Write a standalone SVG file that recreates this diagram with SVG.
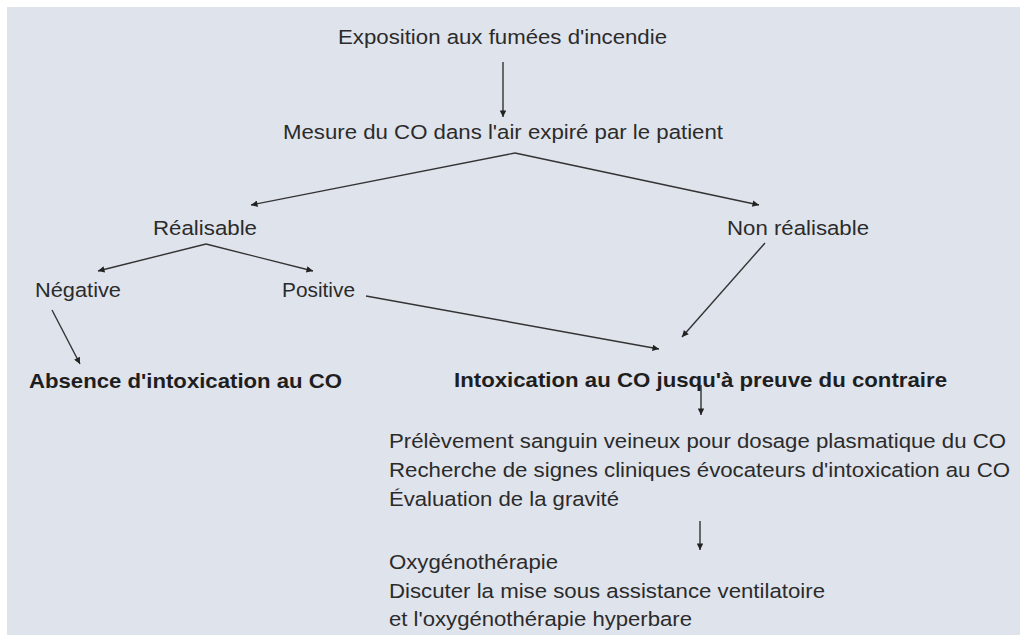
<svg xmlns="http://www.w3.org/2000/svg" width="1020" height="635" viewBox="0 0 1020 635">
<style>
.t{font-family:"Liberation Sans",Arial,sans-serif;font-size:20.5px;fill:#2b2b2b}
.b{font-weight:bold;fill:#1e1e1e}
.c{stroke:#333;stroke-width:1.4;fill:none;marker-end:url(#ah)}
</style>
<defs>
<marker id="ah" viewBox="0 0 10 10" refX="10" refY="5" markerWidth="11" markerHeight="6.5" markerUnits="userSpaceOnUse" orient="auto">
<path d="M0,0 L10,5 L0,10 z" fill="#222"/>
</marker>
</defs>
<rect width="1020" height="635" fill="#ffffff"/>
<rect x="7" y="7" width="1013" height="628" fill="#dfe3ec"/>
<g id="connectors">
<line class="c" x1="503" y1="62" x2="503" y2="117"/>
<line class="c" x1="515" y1="153" x2="251" y2="205"/>
<line class="c" x1="515" y1="153" x2="759" y2="205"/>
<line class="c" x1="206" y1="244" x2="98" y2="271"/>
<line class="c" x1="206" y1="244" x2="313" y2="271"/>
<line class="c" x1="52" y1="310" x2="80" y2="364"/>
<line class="c" x1="366" y1="296" x2="659" y2="349"/>
<line class="c" x1="765" y1="243" x2="682" y2="337"/>
<line class="c" x1="701" y1="385" x2="701" y2="415"/>
<line class="c" x1="700" y1="521" x2="700" y2="550"/>
</g>
<g id="n_exposition"><text class="t" x="338" y="44" textLength="329" lengthAdjust="spacingAndGlyphs">Exposition aux fumées d'incendie</text></g>
<g id="n_mesure"><text class="t" x="283" y="139" textLength="440" lengthAdjust="spacingAndGlyphs">Mesure du CO dans l'air expiré par le patient</text></g>
<g id="n_realisable"><text class="t" x="153" y="235" textLength="104" lengthAdjust="spacingAndGlyphs">Réalisable</text></g>
<g id="n_nonrealisable"><text class="t" x="727" y="235" textLength="142" lengthAdjust="spacingAndGlyphs">Non réalisable</text></g>
<g id="n_negative"><text class="t" x="35" y="297" textLength="86" lengthAdjust="spacingAndGlyphs">Négative</text></g>
<g id="n_positive"><text class="t" x="282" y="297" textLength="73" lengthAdjust="spacingAndGlyphs">Positive</text></g>
<g id="n_absence"><text class="t b" x="29" y="388" textLength="313" lengthAdjust="spacingAndGlyphs">Absence d'intoxication au CO</text></g>
<g id="n_intoxication"><text class="t b" x="454" y="387" textLength="493" lengthAdjust="spacingAndGlyphs">Intoxication au CO jusqu'à preuve du contraire</text></g>
<g id="n_bilan">
<text class="t" x="389" y="448" textLength="617" lengthAdjust="spacingAndGlyphs">Prélèvement sanguin veineux pour dosage plasmatique du CO</text>
<text class="t" x="389" y="477" textLength="621" lengthAdjust="spacingAndGlyphs">Recherche de signes cliniques évocateurs d'intoxication au CO</text>
<text class="t" x="389" y="506" textLength="230" lengthAdjust="spacingAndGlyphs">Évaluation de la gravité</text>
</g>
<g id="n_traitement">
<text class="t" x="389" y="569" textLength="169" lengthAdjust="spacingAndGlyphs">Oxygénothérapie</text>
<text class="t" x="389" y="598" textLength="436" lengthAdjust="spacingAndGlyphs">Discuter la mise sous assistance ventilatoire</text>
<text class="t" x="389" y="626" textLength="303" lengthAdjust="spacingAndGlyphs">et l'oxygénothérapie hyperbare</text>
</g>
</svg>
